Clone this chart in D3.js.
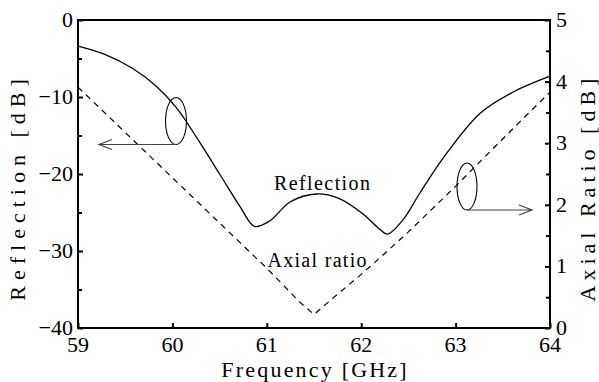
<!DOCTYPE html>
<html>
<head>
<meta charset="utf-8">
<script src="https://cdn.jsdelivr.net/npm/d3@7"></script>
<style>
  html, body { margin: 0; padding: 0; background: #fff; }
  #wrap { position: relative; width: 599px; height: 382px; overflow: hidden; }
  svg { display: block; position: absolute; left: 0; top: 0; }
  .lbl { position: absolute; white-space: nowrap; line-height: 1; color: #000;
         font-family: "Liberation Serif", "Times New Roman", serif; }
</style>
</head>
<body>
<div id="wrap"><svg id="chart" width="599" height="382"></svg></div>
<script>
// Reflection coefficient (dB) versus frequency (GHz)
const reflFreq = [59.00, 59.29, 59.58, 59.82, 60.05, 60.29, 60.50, 60.72, 60.87, 61.03, 61.25, 61.53, 61.75, 62.01, 62.18, 62.28, 62.44, 62.62, 62.87, 63.26, 63.61, 64.00];
const reflDb   = [-3.4, -4.5, -6.3, -8.5, -11.5, -15.9, -20.0, -24.3, -26.8, -26.1, -23.6, -22.6, -23.1, -25.1, -27.0, -27.8, -26.0, -22.5, -17.9, -12.1, -9.35, -7.3];

// Axial ratio (dB) versus frequency (GHz)
const arFreq = [59.00, 60.00, 61.00, 61.35, 61.50, 61.75, 62.00, 62.25, 62.50, 62.75, 63.00, 63.33, 63.67, 64.00];
const arDb   = [3.91, 2.44, 0.97, 0.42, 0.22, 0.55, 0.87, 1.21, 1.56, 1.93, 2.30, 2.81, 3.33, 3.83];

// Axis ticks
const xTicks = [59, 60, 61, 62, 63, 64];
const leftTicks = [-40, -30, -20, -10, 0];
const leftMinor = [-35, -25, -15, -5];
const rightTicks = [0, 1, 2, 3, 4, 5];
const rightMinor = [0.5, 1.5, 2.5, 3.5, 4.5];

const plot = { left: 78, right: 550, top: 20, bottom: 328 };
const svg = d3.select("#chart");
const wrap = d3.select("#wrap");

const x = d3.scaleLinear().domain([59, 64]).range([plot.left, plot.right]);
const yL = d3.scaleLinear().domain([-40, 0]).range([plot.bottom, plot.top]);
const yR = d3.scaleLinear().domain([0, 5]).range([plot.bottom, plot.top]);

// Text label placed at (px, py); ax/ay give the anchor point as a fraction of the box
function label(text, px, py, opts) {
  const o = Object.assign({ ax: 0.5, ay: 0.5, size: 22, spacing: 0, rotate: 0 }, opts || {});
  return wrap.append("div").attr("class", "lbl")
    .style("left", px + "px").style("top", py + "px")
    .style("font-size", o.size + "px")
    .style("letter-spacing", o.spacing + "px")
    .style("padding-left", (o.spacing ? o.spacing : 0) + "px")
    .style("transform", `translate(${-o.ax * 100}%, ${-o.ay * 100}%)` + (o.rotate ? ` rotate(${o.rotate}deg)` : ""))
    .text(text);
}

// Curves
const reflLine = d3.line()
  .x((d, i) => x(reflFreq[i]))
  .y(d => yL(d))
  .curve(d3.curveCatmullRom.alpha(0.5));
svg.append("path")
  .attr("d", reflLine(reflDb))
  .attr("fill", "none").attr("stroke", "#000").attr("stroke-width", 1.3);

const arLine = d3.line()
  .x((d, i) => x(arFreq[i]))
  .y(d => yR(d));
svg.append("path")
  .attr("d", arLine(arDb))
  .attr("fill", "none").attr("stroke", "#000").attr("stroke-width", 1.2)
  .attr("stroke-dasharray", "6,5");

// Axes: tick marks point into the plot; labels are drawn as text boxes below
svg.append("g").attr("transform", `translate(0,${plot.bottom})`)
  .call(d3.axisBottom(x).tickValues(xTicks).tickFormat("").tickSizeInner(-5).tickSizeOuter(0));
svg.append("g").attr("transform", `translate(${plot.left},0)`)
  .call(d3.axisLeft(yL).tickValues(leftTicks).tickFormat("").tickSizeInner(-5).tickSizeOuter(0));
svg.append("g").attr("transform", `translate(${plot.right},0)`)
  .call(d3.axisRight(yR).tickValues(rightTicks).tickFormat("").tickSizeInner(-5).tickSizeOuter(0));
svg.append("g").attr("transform", `translate(${plot.left},0)`)
  .call(d3.axisLeft(yL).tickValues(leftMinor).tickFormat("").tickSizeInner(-4).tickSizeOuter(0));
svg.append("g").attr("transform", `translate(${plot.right},0)`)
  .call(d3.axisRight(yR).tickValues(rightMinor).tickFormat("").tickSizeInner(-4).tickSizeOuter(0));
svg.selectAll(".domain").remove();
svg.selectAll(".tick line").attr("stroke", "#000").attr("stroke-width", 2);

// Frame
svg.append("rect")
  .attr("x", plot.left).attr("y", plot.top)
  .attr("width", plot.right - plot.left).attr("height", plot.bottom - plot.top)
  .attr("fill", "none").attr("stroke", "#000").attr("stroke-width", 2);

// Tick labels
const fmt = d3.format("d");
xTicks.forEach(v => label(fmt(v), x(v), plot.bottom + 17, { size: 22 }));
leftTicks.forEach(v => label(fmt(v), plot.left - 5, yL(v), { ax: 1, size: 22 }));
rightTicks.forEach(v => label(fmt(v), plot.right + 6, yR(v), { ax: 0, size: 22 }));

// Axis titles
label("Frequency [GHz]", (plot.left + plot.right) / 2, 370, { size: 22, spacing: 2.2 });
label("Reflection [dB]", 17.5, 190, { size: 22, spacing: 6, rotate: -90 });
label("Axial Ratio [dB]", 588, 190, { size: 22, spacing: 5, rotate: -90 });

// Curve labels
label("Reflection", 322, 182.5, { size: 20, spacing: 1.4 });
label("Axial ratio", 317, 259.5, { size: 20, spacing: 1.3 });

// Ellipses with arrows pointing to each curve's axis
function marker(cx, cy, rx, ry, tipX) {
  svg.append("ellipse")
    .attr("cx", cx).attr("cy", cy).attr("rx", rx).attr("ry", ry)
    .attr("fill", "none").attr("stroke", "#000").attr("stroke-width", 1.1);
  const yb = cy + ry;
  const dir = tipX < cx ? 1 : -1;
  svg.append("path")
    .attr("d", `M${cx},${yb}H${tipX}M${tipX + dir * 13},${yb - 5}L${tipX},${yb}L${tipX + dir * 13},${yb + 5}`)
    .attr("fill", "none").attr("stroke", "#444").attr("stroke-width", 1.2);
}
marker(176, 121, 10.5, 23.5, 99);
marker(467, 186.5, 10, 23.5, 532);
</script>
</body>
</html>
